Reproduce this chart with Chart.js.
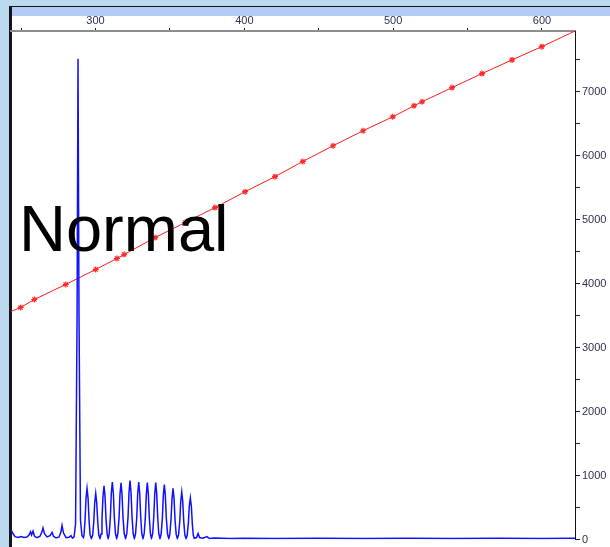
<!DOCTYPE html>
<html>
<head>
<meta charset="utf-8">
<script src="https://cdn.jsdelivr.net/npm/chart.js@4.4.1/dist/chart.umd.min.js"></script>
<style>
  html, body { margin: 0; padding: 0; width: 610px; height: 547px; overflow: hidden; background: #bad9ef; }
  #frame { position: absolute; left: 9px; top: 6px; width: 601px; height: 541px; background: #ffffff;
           border-left: 3px solid #151515; border-top: 1px solid #151515; box-sizing: border-box; }
  #band { position: absolute; left: 12px; top: 7px; width: 598px; height: 9px; background: #b4cbf6; }
  #c { position: absolute; left: 0; top: 0; }
  #tag { position: absolute; left: 19px; top: 196px; font-family: "Liberation Sans", Arial, sans-serif;
         font-size: 65px; line-height: 65px; color: #000; white-space: nowrap; }
</style>
</head>
<body>
<div id="frame"></div>
<div id="band"></div>
<canvas id="c" width="610" height="547"></canvas>
<div id="tag">Normal</div>
<script>
// Axis ticks
const xTicks = [250, 300, 350, 400, 450, 500, 550, 600];
const xTickLabels = [300, 400, 500, 600];
const yTicks = [0, 500, 1000, 1500, 2000, 2500, 3000, 3500, 4000, 4500, 5000, 5500, 6000, 6500, 7000, 7500];
const yTickLabels = [0, 1000, 2000, 3000, 4000, 5000, 6000, 7000];

// Blue signal trace (scan position, intensity)
const scanX = [
  243.2, 244.6, 245.9, 247.9, 249.9, 251.9, 253.9, 255.3, 256.3, 257.0, 258.0, 259.0, 260.7, 262.7,
  264.0, 264.7, 265.7, 267.4, 269.4, 270.8, 271.8, 273.5, 275.5, 276.8, 277.5, 278.5, 280.2, 282.2,
  283.5, 284.5, 285.6, 286.6, 287.6, 288.24, 288.9, 289.9, 290.9, 291.9,
  292.3, 292.95, 293.6, 294.3, 295.0, 295.65, 296.3, 297.2,
  298.1, 298.8, 299.45, 300.13, 300.8, 301.5, 302.2, 303.0,
  303.7, 304.35, 305.0, 305.71, 306.4, 307.05, 307.8, 308.5,
  309.2, 309.95, 310.6, 311.29, 312.0, 312.65, 313.4, 314.2,
  315.0, 315.8, 316.45, 317.14, 317.8, 318.5, 319.3, 320.2,
  321.0, 321.85, 322.5, 323.19, 323.85, 324.55, 325.3, 326.1,
  326.9, 327.7, 328.35, 329.03, 329.7, 330.4, 331.1, 331.9,
  332.7, 333.45, 334.15, 334.81, 335.5, 336.15, 336.9, 337.6,
  338.4, 339.1, 339.8, 340.46, 341.15, 341.8, 342.5, 343.3,
  344.1, 344.9, 345.55, 346.24, 346.9, 347.6, 348.4, 349.2,
  349.9, 350.7, 351.4, 352.08, 352.75, 353.45, 354.2, 355.0,
  355.8, 356.6, 357.25, 357.93, 358.6, 359.3, 360.0, 360.8,
  361.6, 362.35, 363.0, 363.71, 364.4, 365.05, 365.7, 366.3,
  367.9, 368.9, 369.9, 372.0, 374.9, 376.5, 380.0, 390.0, 400.0, 420.0, 450.0, 480.0,
  510.0, 540.0, 570.0, 600.0, 622.2
];
const scanY = [
  150, 90, 45, 30, 45, 30, 40, 70, 120, 70, 130, 50, 30, 50,
  120, 180, 90, 40, 60, 110, 50, 25, 40, 120, 220, 100, 30, 35,
  60, 20, 40, 250, 3500, 7520, 3500, 300, 60, 30,
  80, 300, 640, 800, 640, 300, 80, 15,
  70, 270, 575, 720, 575, 270, 70, 15,
  85, 320, 670, 840, 670, 320, 85, 15,
  90, 340, 720, 900, 720, 340, 90, 15,
  90, 335, 710, 885, 710, 335, 90, 15,
  90, 350, 735, 920, 735, 350, 90, 15,
  90, 340, 720, 900, 720, 340, 90, 15,
  90, 335, 710, 890, 710, 335, 90, 15,
  90, 335, 710, 890, 710, 335, 90, 15,
  85, 325, 690, 860, 690, 325, 85, 15,
  80, 300, 640, 800, 640, 300, 80, 15,
  75, 280, 595, 745, 595, 280, 75, 15,
  65, 245, 520, 650, 520, 245, 65, 20,
  30, 95, 30, 20, 45, 15, 25, 15, 20, 15, 20, 15,
  20, 15, 20, 15, 20
];

// Red sizing curve: calibration markers plus its ends at the plot edges
const sizeX = [243.2, 249.7, 258.9, 280.0, 300.1, 314.4, 319.2, 340.0, 360.2, 380.3, 400.5, 420.6,
               439.3, 459.6, 479.8, 499.7, 514.0, 519.4, 539.6, 559.7, 579.9, 599.9, 622.2];
const sizeY = [3567, 3629, 3754, 3989, 4223, 4395, 4457, 4722, 4957, 5191, 5440, 5675,
               5913, 6158, 6393, 6611, 6783, 6846, 7068, 7287, 7501, 7708, 7953];

const trace = scanX.map((x, i) => ({ x: x, y: scanY[i] }));
const sizing = sizeX.map((x, i) => ({ x: x, y: sizeY[i] }));
const lastSize = sizing.length - 1;

const tickFont = { family: '"Liberation Sans", Arial, sans-serif', size: 11, lineHeight: 1 };

new Chart(document.getElementById('c'), {
  type: 'line',
  data: {
    datasets: [
      {
        label: 'trace',
        data: trace,
        borderColor: '#1010ff',
        borderWidth: 1.5,
        pointRadius: 0,
        tension: 0,
        order: 0
      },
      {
        label: 'sizing',
        data: sizing,
        borderColor: '#ff1a1a',
        borderWidth: 1,
        pointStyle: 'star',
        pointRadius: ctx => (ctx.dataIndex === 0 || ctx.dataIndex === lastSize) ? 0 : 3,
        pointBorderColor: '#ff2a2a',
        pointBackgroundColor: '#ff2a2a',
        pointBorderWidth: 1.2,
        tension: 0,
        order: 1
      }
    ]
  },
  options: {
    responsive: false,
    animation: false,
    events: [],
    layout: { padding: { left: 11, right: 0, top: 0, bottom: 5.5 } },
    plugins: { legend: { display: false }, tooltip: { enabled: false } },
    scales: {
      x: {
        type: 'linear',
        position: 'top',
        min: 243.2,
        max: 622.2,
        afterBuildTicks: s => { s.ticks = xTicks.map(v => ({ value: v })); },
        afterFit: s => { s.height = 31; },
        grid: { display: true, drawOnChartArea: false, drawTicks: true, tickLength: 3, tickColor: '#222', tickWidth: 1 },
        border: { display: true, color: '#8c8c8c', width: 2 },
        ticks: {
          color: '#2b3550',
          font: tickFont,
          padding: 2,
          maxRotation: 0,
          autoSkip: false,
          callback: v => xTickLabels.includes(v) ? String(v) : ''
        }
      },
      y: {
        type: 'linear',
        position: 'right',
        min: 0,
        max: 7953,
        afterBuildTicks: s => { s.ticks = yTicks.map(v => ({ value: v })); },
        afterFit: s => { s.width = 35; },
        grid: { display: true, drawOnChartArea: false, drawTicks: true, tickLength: 5, tickColor: '#222', tickWidth: 1 },
        border: { display: true, color: '#111', width: 1 },
        ticks: {
          color: '#2b3550',
          font: tickFont,
          padding: 2,
          autoSkip: false,
          callback: v => yTickLabels.includes(v) ? String(v) : ''
        }
      }
    }
  }
});
</script>
</body>
</html>
